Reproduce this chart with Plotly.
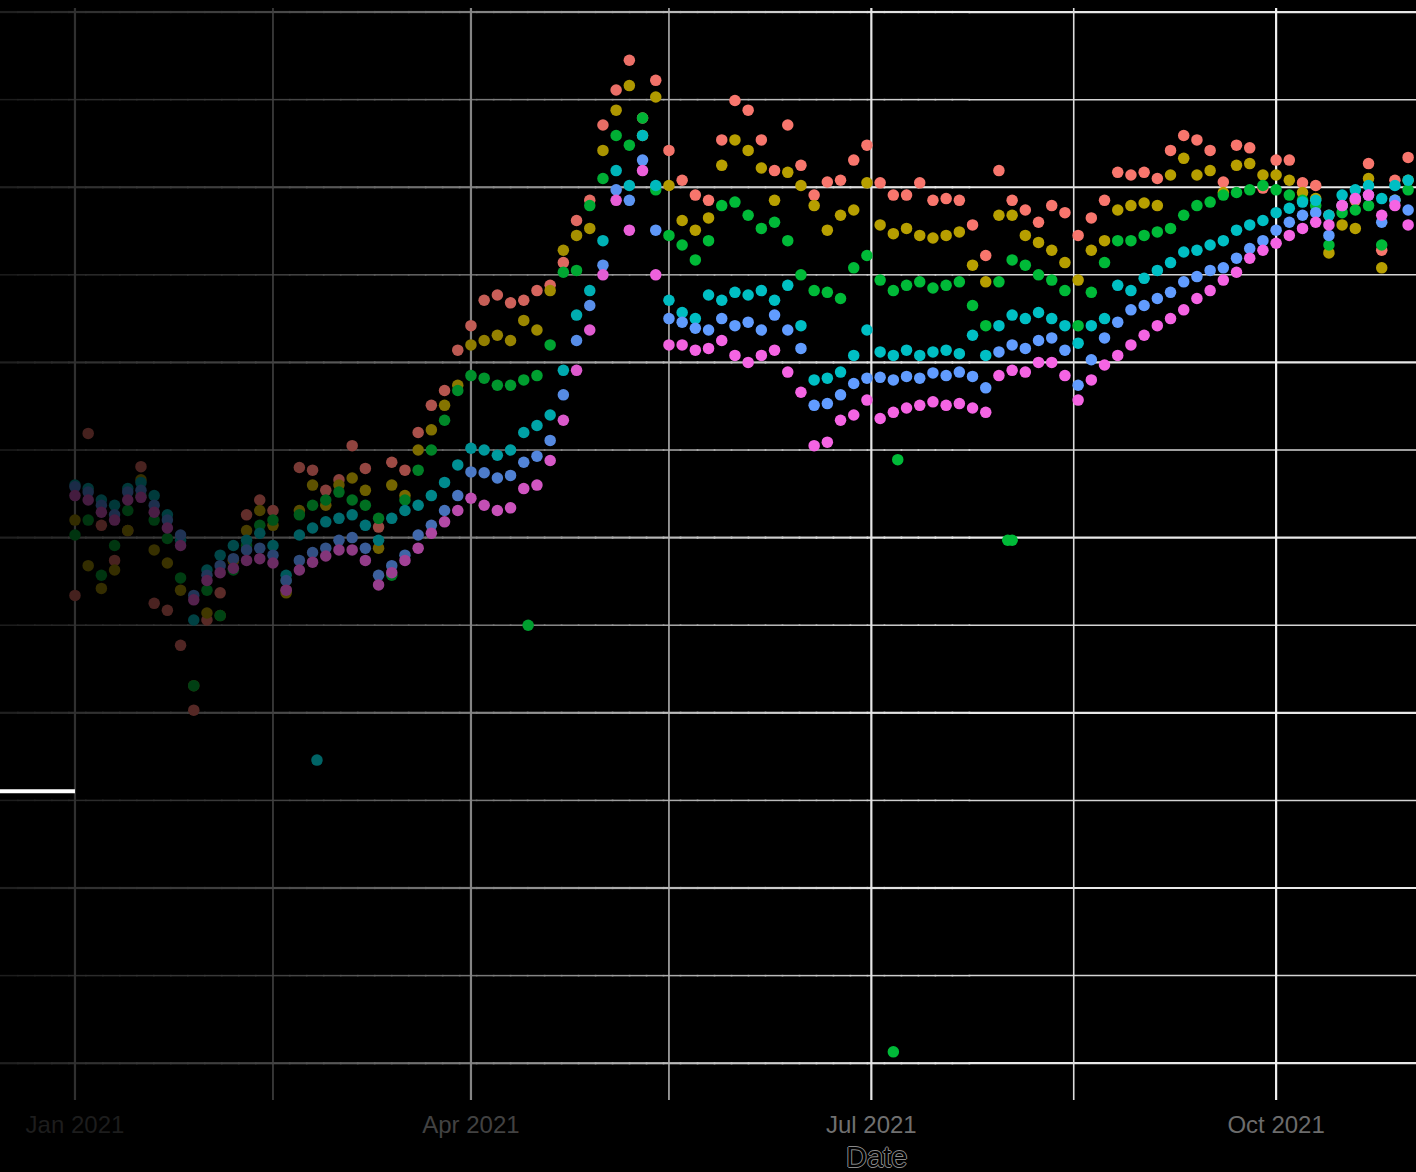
import numpy as np
import pandas as pd
import plotly.graph_objects as go

# ---------------- data (one sample every 3 days) ----------------
dates = pd.date_range("2021-01-01", periods=102, freq="3D")

series_names = ["Series 1", "Series 2", "Series 3", "Series 4", "Series 5", "Series 6"]
series_colors = ["#F8766D", "#B79F00", "#00BA38", "#00BFC4", "#619CFF", "#F564E3"]

s1 = [53.4, 71.9, 61.4, 57.4, 60.8, 68.1, 52.5, 51.7, 47.7, 40.3,
      50.6, 53.7, 57.4, 62.6, 64.3, 63.1, 54.0, 68.0, 67.7, 65.4,
      66.6, 70.5, 67.9, 61.2, 68.6, 67.7, 72.0, 75.1, 76.8, 81.4,
      84.2, 87.1, 87.7, 86.8, 87.1, 88.2, 88.8, 91.4, 96.2, 98.5,
      107.1, 111.1, 114.5, 107.9, 112.2, 104.2, 100.8, 99.1, 98.5, 105.4,
      109.9, 108.8, 105.4, 101.9, 107.1, 102.5, 99.1, 100.6, 100.8, 103.1,
      104.8, 100.5, 99.1, 99.1, 100.5, 98.5, 98.7, 98.5, 95.7, 92.2,
      101.9, 98.5, 97.4, 96.0, 97.9, 97.1, 94.5, 96.5, 98.5, 101.7,
      101.4, 101.7, 101.0, 104.2, 105.9, 105.4, 104.2, 100.6, 104.8, 104.5,
      99.9, 103.1, 103.1, 100.5, 100.2, 96.8, 97.9, 98.5, 102.7, 92.8,
      100.8, 103.4]

s2 = [62.0, 56.8, 54.2, 56.3, 60.8, 66.6, 58.6, 57.1, 54.0, 43.1,
      51.4, 51.1, 57.4, 60.8, 63.1, 61.4, 53.7, 63.1, 66.0, 63.7,
      66.0, 66.8, 65.4, 58.8, 66.0, 64.8, 70.0, 72.3, 75.1, 77.4,
      82.0, 82.5, 83.1, 82.5, 84.8, 83.7, 88.2, 92.8, 94.5, 95.3,
      104.2, 108.8, 111.6, 105.9, 110.3, 100.2, 96.2, 95.1, 96.5, 102.5,
      105.4, 104.2, 102.2, 98.5, 101.7, 100.2, 97.9, 95.1, 96.8, 97.4,
      100.5, 95.7, 94.7, 95.3, 94.5, 94.2, 94.5, 94.9, 91.1, 89.2,
      96.8, 96.8, 94.5, 93.7, 92.8, 91.4, 89.4, 92.8, 93.9, 97.4,
      97.9, 98.2, 97.9, 101.4, 103.3, 101.4, 101.9, 99.4, 102.5, 102.7,
      101.4, 101.4, 100.8, 99.4, 98.7, 92.5, 95.7, 95.3, 101.0, 90.8,
      98.5, 100.8]

s3 = [60.3, 62.0, 55.7, 59.1, 63.1, 64.8, 62.0, 59.9, 55.4, 43.1,
      54.0, 51.1, 56.3, 59.1, 61.4, 62.0, 55.1, 62.6, 63.7, 64.3,
      65.2, 64.3, 63.7, 62.2, 55.7, 64.3, 67.7, 70.0, 73.4, 76.8,
      78.5, 78.2, 77.4, 77.4, 78.0, 78.5, 82.0, 90.3, 90.5, 97.9,
      101.0, 105.9, 104.8, 107.9, 99.7, 94.5, 93.4, 91.7, 93.9, 97.9,
      98.3, 96.8, 95.3, 96.0, 93.9, 90.0, 88.2, 88.0, 87.3, 90.8,
      92.2, 89.4, 88.2, 88.8, 89.2, 88.5, 88.8, 89.2, 86.5, 84.2,
      89.2, 91.7, 91.1, 90.0, 89.4, 88.2, 84.2, 88.0, 91.4, 93.9,
      93.9, 94.5, 94.9, 95.3, 96.8, 97.9, 98.3, 99.1, 99.4, 99.7,
      100.2, 99.7, 99.1, 98.5, 97.9, 93.4, 97.1, 97.4, 97.9, 93.4,
      98.5, 99.7]

s4 = [66.0, 65.6, 64.3, 63.7, 65.6, 66.3, 64.8, 62.6, 59.7, 50.6,
      56.3, 58.0, 59.1, 59.7, 60.5, 59.1, 55.7, 60.3, 61.1, 61.8,
      62.2, 62.6, 61.4, 59.7, 62.2, 63.1, 63.7, 64.8, 66.3, 68.3,
      70.2, 70.0, 69.4, 70.0, 72.0, 72.8, 74.0, 79.1, 85.4, 88.2,
      93.9, 101.9, 100.2, 105.9, 100.2, 87.1, 85.7, 85.0, 87.7, 87.1,
      88.0, 87.7, 88.2, 87.1, 88.8, 84.2, 78.0, 78.2, 78.9, 80.8,
      83.7, 81.2, 80.8, 81.4, 80.8, 81.2, 81.4, 81.0, 83.1, 80.8,
      84.2, 85.4, 85.0, 85.7, 85.0, 84.2, 82.2, 84.2, 85.0, 88.8,
      88.2, 89.6, 90.5, 91.4, 92.6, 92.8, 93.4, 93.9, 95.1, 95.7,
      96.2, 97.1, 97.6, 98.3, 98.5, 96.8, 99.1, 99.7, 100.2, 98.7,
      100.2, 100.8]

s5 = [65.8, 65.2, 63.7, 62.6, 65.2, 65.4, 63.7, 62.0, 60.3, 53.4,
      55.7, 56.8, 57.6, 58.6, 58.8, 58.0, 55.1, 57.4, 58.3, 58.8,
      59.7, 60.0, 58.8, 55.7, 56.8, 58.0, 60.3, 61.4, 63.1, 64.8,
      67.5, 67.4, 66.8, 67.1, 68.6, 69.3, 71.1, 76.3, 82.5, 86.5,
      91.1, 99.7, 98.5, 103.1, 95.1, 85.0, 84.6, 83.9, 83.7, 85.0,
      84.2, 84.6, 83.7, 85.4, 83.7, 81.6, 75.1, 75.3, 76.3, 77.6,
      78.2, 78.3, 78.0, 78.4, 78.2, 78.8, 78.5, 78.9, 78.4, 77.1,
      81.2, 82.0, 81.6, 82.5, 82.8, 81.4, 77.4, 80.3, 82.8, 84.6,
      86.0, 86.5, 87.3, 88.0, 89.2, 89.8, 90.5, 90.8, 91.9, 93.0,
      93.9, 95.1, 96.0, 96.8, 97.1, 94.5, 97.9, 98.7, 99.1, 96.0,
      98.5, 97.4]

s6 = [64.8, 64.3, 62.9, 62.0, 64.3, 64.6, 62.9, 61.1, 59.1, 52.9,
      55.1, 56.0, 56.5, 57.4, 57.6, 57.1, 54.0, 56.3, 57.2, 57.9,
      58.6, 58.6, 57.4, 54.6, 56.0, 57.4, 58.8, 60.5, 61.8, 63.1,
      64.5, 63.7, 63.1, 63.4, 65.6, 66.0, 68.8, 73.4, 79.1, 83.7,
      90.0, 98.5, 95.1, 101.9, 90.0, 82.0, 82.0, 81.4, 81.6, 82.5,
      80.8, 80.0, 80.8, 81.4, 78.9, 76.6, 70.5, 70.9, 73.4, 74.0,
      75.7, 73.6, 74.3, 74.8, 75.1, 75.5, 75.1, 75.3, 74.8, 74.3,
      78.5, 79.1, 78.9, 80.0, 80.0, 78.5, 75.7, 78.0, 79.7, 80.8,
      82.0, 83.1, 84.2, 85.0, 86.0, 87.3, 88.2, 89.4, 90.3, 91.9,
      92.8, 93.6, 94.5, 95.3, 96.0, 95.7, 97.9, 98.7, 99.1, 96.8,
      97.9, 95.7]

# isolated points that fall far from their own series
s3_extra_dates = ["2021-04-14", "2021-07-06", "2021-07-07", "2021-08-01", "2021-08-02"]
s3_extra_values = [50.0, 1.3, 68.9, 59.7, 59.7]
s4_extra_dates = ["2021-02-25"]
s4_extra_values = [34.6]

tick_dates = ["2021-01-01", "2021-04-01", "2021-07-01", "2021-10-01"]
tick_labels = ["Jan 2021", "Apr 2021", "Jul 2021", "Oct 2021"]
tick_label_colors = ["#1d1d1d", "#424242", "#707070", "#6c6c6c"]
minor_dates = ["2021-02-15", "2021-05-16", "2021-08-16"]
y_major = [0, 20, 40, 60, 80, 100, 120]
y_minor = [10, 30, 50, 70, 90, 110]

# ---------------- styling helpers ----------------
START = pd.Timestamp("2021-01-01")
X_RANGE = [pd.Timestamp("2020-12-14T23:00"), pd.Timestamp("2021-11-01T19:00")]
Y_RANGE = [-4.2, 120.46]


def brightness(ds):
    d = np.array([(pd.Timestamp(x) - START).days for x in ds], dtype=float)
    return np.interp(d, [0, 17, 40, 58, 74, 90, 108, 124, 142],
                     [0.28, 0.30, 0.40, 0.55, 0.65, 0.78, 0.88, 0.95, 1.0])


def faded(hexcol, ds):
    r, g, b = int(hexcol[1:3], 16), int(hexcol[3:5], 16), int(hexcol[5:7], 16)
    return [f"rgb({int(r*k)},{int(g*k)},{int(b*k)})" for k in brightness(ds)]


# darkness of the gridlines along the width (paper fraction -> darkness)
fade_x = [0.0, 0.053, 0.193, 0.333, 0.474, 0.616, 0.678, 1.0]
fade_d = [0.87, 0.80, 0.70, 0.45, 0.20, 0.04, 0.0, 0.0]


def gray(level, frac):
    v = int(round(level * (1 - float(np.interp(frac, fade_x, fade_d)))))
    return f"rgb({v},{v},{v})"


def paper_of(date):
    t = pd.Timestamp(date)
    return (t - X_RANGE[0]) / (X_RANGE[1] - X_RANGE[0])


fig = go.Figure()
all_series = [s1, s2, s3, s4, s5, s6]
extras = {2: (s3_extra_dates, s3_extra_values), 3: (s4_extra_dates, s4_extra_values)}

for i, (name, col, vals) in enumerate(zip(series_names, series_colors, all_series)):
    xs = list(dates)
    ys = list(vals)
    if i in extras:
        xs += [pd.Timestamp(x) for x in extras[i][0]]
        ys += list(extras[i][1])
    fig.add_trace(go.Scatter(
        x=xs, y=ys, mode="markers", name=name,
        marker=dict(size=11.5, color=faded(col, xs), line=dict(width=0)),
        showlegend=False, hoverinfo="x+y+name",
    ))

# ---------------- gridlines drawn as shapes so they can fade to the left ----------------
shapes = []
edges = list(np.arange(0, 0.69, 0.012)) + [1.0]
overlap = 0.0012
for yv, lvl, w in [(v, 232, 2.2) for v in y_major] + [(v, 212, 1.5) for v in y_minor]:
    for a, b in zip(edges[:-1], edges[1:]):
        shapes.append(dict(type="line", xref="paper", yref="y", x0=a, x1=min(b + overlap, 1.0),
                           y0=yv, y1=yv,
                           line=dict(color=gray(lvl, (a + b) / 2), width=w), layer="below"))
for dv, lvl, w in [(d, 240, 2.2) for d in tick_dates] + [(d, 220, 1.6) for d in minor_dates]:
    shapes.append(dict(type="line", xref="x", yref="paper", x0=dv, x1=dv, y0=0, y1=1,
                       line=dict(color=gray(lvl, paper_of(dv)), width=w), layer="below"))

# short bright bar at the left edge
shapes.append(dict(type="line", xref="x", yref="y", x0="2020-12-10", x1="2021-01-01",
                   y0=31.05, y1=31.05, line=dict(color="white", width=4), layer="above"))

fig.update_layout(
    width=1416, height=1172,
    margin=dict(l=0, r=0, t=8, b=72),
    paper_bgcolor="black", plot_bgcolor="black",
    shapes=shapes,
    font=dict(family="Liberation Sans, Arial, sans-serif"),
    xaxis=dict(
        type="date",
        range=[str(X_RANGE[0]), str(X_RANGE[1])],
        tickmode="array", tickvals=tick_dates,
        ticktext=[f'<span style="color:{c}">{t}</span>' for t, c in zip(tick_labels, tick_label_colors)],
        tickfont=dict(size=24, color="#707070"),
        ticks="", showline=False, zeroline=False, showgrid=False,
        ticklabelstandoff=8,
    ),
    yaxis=dict(
        range=Y_RANGE, showticklabels=False, ticks="",
        showline=False, zeroline=False, showgrid=False,
    ),
    annotations=[dict(
        text="Date", xref="paper", yref="paper", x=876 / 1416, y=-0.0522,
        xanchor="center", yanchor="middle", showarrow=False,
        font=dict(size=29, color="#000000",
                  shadow="1px 0 0 #8a8a8a, -1px 0 0 #8a8a8a, 0 1px 0 #8a8a8a, 0 -1px 0 #8a8a8a"),
    )],
)

fig.write_html("out.html", config={"displayModeBar": False},
               post_script="document.body.style.margin='0';document.body.style.background='black';")
